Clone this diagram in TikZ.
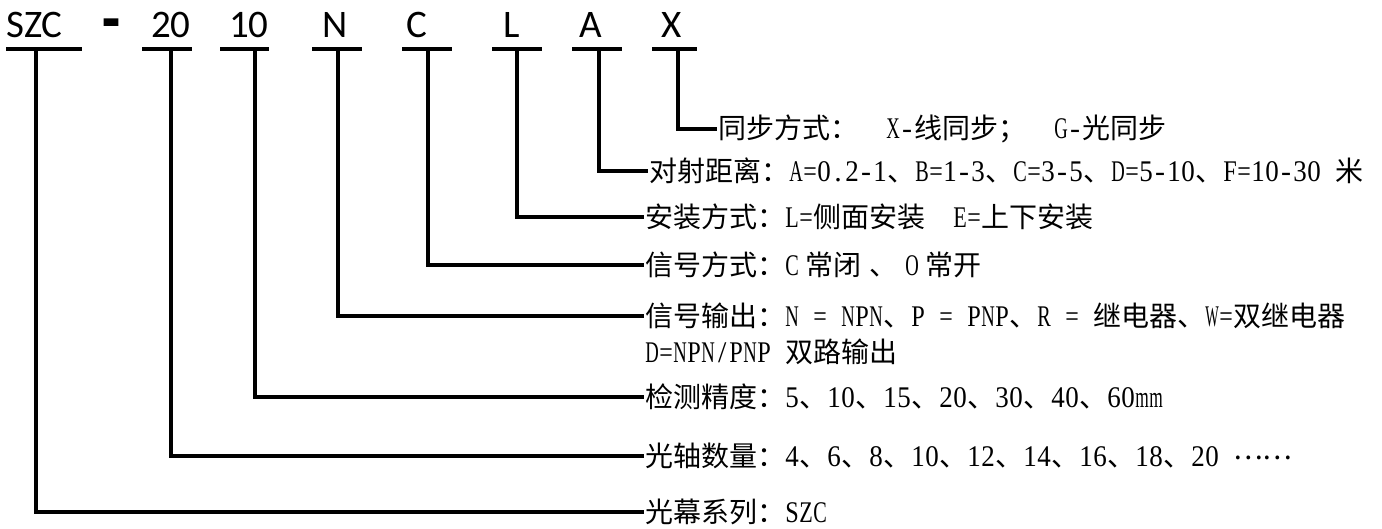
\documentclass[tikz,border=0pt]{standalone}
\usepackage{fontspec}
\usepackage{graphicx}
\setmainfont{Liberation Serif}
\newfontfamily\cjk{Noto Sans CJK SC}
\newfontfamily\codefont{Carlito}
\newfontfamily\dashfont{Carlito}[BoldFeatures={FakeBold=4}]
\newcommand\zhtxt[1]{{\cjk #1}}
\newcommand\hsp{\hspace{14pt}}
\newsavebox\hwsave
\def\hwchar#1{\sbox\hwsave{#1}\ifdim\wd\hwsave>13.5pt\relax\makebox[14pt]{\resizebox{13.5pt}{\height}{#1}}\else\makebox[14pt]{#1}\fi}
\def\hwloop#1{\ifx#1\relax\else\hwchar{#1}\expandafter\hwloop\fi}
\newcommand\hw[1]{{\fontsize{30}{34}\selectfont\hwloop#1\relax}}
\begin{document}
\begin{tikzpicture}[x=1pt,y=-1pt,
  code/.style={inner sep=0pt, anchor=base west, font=\codefont\fontsize{39}{40}\selectfont},
  desc/.style={inner sep=1pt, anchor=west, font=\fontsize{28}{34}\selectfont},
  uline/.style={line width=4pt},
  conn/.style={line width=3.8pt, line join=miter}]
\useasboundingbox (0,0) rectangle (1382,528);
% code labels
\node[code] (cS) at (6,37) {SZC};
\node[inner sep=0pt, anchor=base, font=\dashfont\bfseries\fontsize{52}{52}\selectfont] (dash) at (111,37) {-};
\node[code] (c20) at (151,37) {20};
\node[code] (c10) at (229,37) {10};
\node[code] (cN) at (322,37) {N};
\node[code] (cC) at (406,37) {C};
\node[code] (cL) at (503,37) {L};
\node[code] (cA) at (579,37) {A};
\node[code] (cX) at (661,37) {X};
% underlines
\draw[uline] (6,49) -- (82,49);
\draw[uline] (142,49) -- (192,49);
\draw[uline] (220,49) -- (269,49);
\draw[uline] (312,49) -- (362,49);
\draw[uline] (402,49) -- (452,49);
\draw[uline] (492,49) -- (542,49);
\draw[uline] (572,49) -- (622,49);
\draw[uline] (652,49) -- (697,49);
% connector starts
\coordinate (vS) at (36,49);
\coordinate (v20) at (171,49);
\coordinate (v10) at (255,49);
\coordinate (vN) at (338,49);
\coordinate (vC) at (428,49);
\coordinate (vL) at (517,49);
\coordinate (vA) at (599,49);
\coordinate (vX) at (678,49);
% descriptions
\node[desc] (dX) at (717,129) {\zhtxt{同步方式：}\hsp\hsp\hw{X-}\zhtxt{线同步；}\hsp\hsp\hw{G-}\zhtxt{光同步}};
\node[desc] (dA) at (648,171) {\zhtxt{对射距离：}\hw{A=0.2-1}\zhtxt{、}\hw{B=1-3}\zhtxt{、}\hw{C=3-5}\zhtxt{、}\hw{D=5-10}\zhtxt{、}\hw{F=10-30}\hsp\zhtxt{米}};
\node[desc] (dL) at (644,217) {\zhtxt{安装方式：}\hw{L=}\zhtxt{侧面安装}\hsp\hsp\hw{E=}\zhtxt{上下安装}};
\node[desc] (dC) at (644,265) {\zhtxt{信号方式：}\hw{C}\hspace{6pt}\zhtxt{常闭}\hspace{8pt}\zhtxt{、}\hspace{8pt}\hw{O}\hspace{6pt}\zhtxt{常开}};
\node[desc] (dN) at (644,316) {\zhtxt{信号输出：}\hw{N}\hsp\hw{=}\hsp\hw{NPN}\zhtxt{、}\hw{P}\hsp\hw{=}\hsp\hw{PNP}\zhtxt{、}\hw{R}\hsp\hw{=}\hsp\zhtxt{继电器、}\hw{W=}\zhtxt{双继电器}};
\node[desc] (dN2) at (644,352) {\hw{D=NPN/PNP}\hsp\zhtxt{双路输出}};
\node[desc] (d10) at (644,397) {\zhtxt{检测精度：}\hw{5}\zhtxt{、}\hw{10}\zhtxt{、}\hw{15}\zhtxt{、}\hw{20}\zhtxt{、}\hw{30}\zhtxt{、}\hw{40}\zhtxt{、}\hw{60mm}};
\node[desc] (d20) at (644,456) {\zhtxt{光轴数量：}\hw{4}\zhtxt{、}\hw{6}\zhtxt{、}\hw{8}\zhtxt{、}\hw{10}\zhtxt{、}\hw{12}\zhtxt{、}\hw{14}\zhtxt{、}\hw{16}\zhtxt{、}\hw{18}\zhtxt{、}\hw{20}\hsp\raisebox{7pt}{\zhtxt{……}}};
\node[desc] (dS) at (644,512) {\zhtxt{光幕系列：}\hw{SZC}};
% connectors
\draw[conn] (vX) |- (dX.west);
\draw[conn] (vA) |- (dA.west);
\draw[conn] (vL) |- (dL.west);
\draw[conn] (vC) |- (dC.west);
\draw[conn] (vN) |- (dN.west);
\draw[conn] (v10) |- (d10.west);
\draw[conn] (v20) |- (d20.west);
\draw[conn] (vS) |- (dS.west);
\end{tikzpicture}
\end{document}
